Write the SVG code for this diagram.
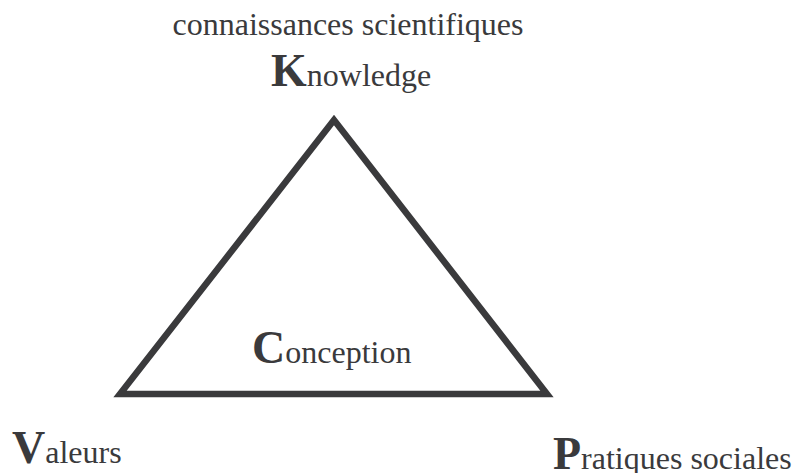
<svg xmlns="http://www.w3.org/2000/svg" width="794" height="473" viewBox="0 0 794 473">
<style>
text{font-family:"Liberation Serif","Times New Roman",serif;fill:#3a3a3c}
.big{font-weight:bold;font-size:46px}
.sm{font-size:32px}
.edge{fill:none;stroke:#3a3a3c;stroke-width:6.5;stroke-linejoin:miter}
</style>
<rect width="794" height="473" fill="#fff"/>
<g id="connectors">
<polygon class="edge" points="334,120 120,394 547,394"/>
</g>
<g id="knowledge">
<text x="348" y="35" font-size="32" text-anchor="middle">connaissances scientifiques</text>
<text x="271" y="86"><tspan class="big">K</tspan><tspan class="sm">nowledge</tspan></text>
</g>
<g id="conception">
<text x="252" y="363"><tspan class="big">C</tspan><tspan class="sm">onception</tspan></text>
</g>
<g id="valeurs">
<text x="12" y="463"><tspan class="big">V</tspan><tspan class="sm">aleurs</tspan></text>
</g>
<g id="pratiques">
<text x="553" y="469"><tspan class="big">P</tspan><tspan class="sm">ratiques sociales</tspan></text>
</g>
</svg>
